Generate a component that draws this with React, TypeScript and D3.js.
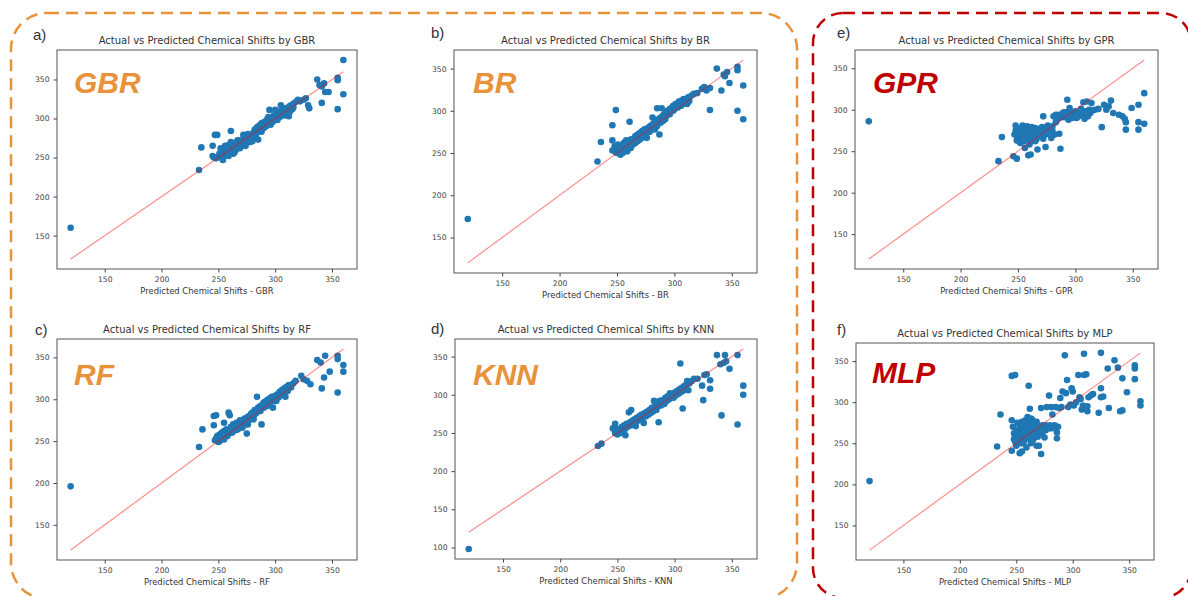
import { useEffect, useRef } from 'react';
import * as d3 from 'd3';

type Pt = [number, number];

// [x, y] pairs (x axis: "Predicted", y axis: actual)
const gbrPoints: Pt[] = [
  [120, 160], [233, 234], [235, 263], [245, 265], [245, 252], [247, 279], [249, 279], [246, 250], [248, 249],
  [250, 251], [251, 255], [252, 250], [253, 258], [254, 253], [255, 252], [255, 262], [256, 258], [257, 255],
  [258, 261], [258, 253], [259, 266], [260, 257], [260, 262], [261, 284], [262, 259], [262, 264], [263, 262],
  [264, 256], [264, 268], [265, 266], [266, 261], [266, 270], [267, 265], [268, 263], [268, 272], [269, 268],
  [270, 266], [271, 272], [272, 269], [273, 276], [273, 266], [274, 271], [275, 278], [276, 273], [277, 270],
  [278, 276], [279, 279], [280, 277], [281, 282], [282, 286], [283, 280], [284, 289], [285, 273], [285, 285],
  [286, 291], [287, 288], [288, 294], [289, 290], [290, 295], [291, 292], [292, 297], [293, 299], [294, 296],
  [295, 311], [296, 300], [297, 297], [298, 302], [299, 304], [300, 311], [300, 300], [301, 305], [302, 303],
  [303, 307], [304, 309], [305, 317], [306, 305], [307, 310], [308, 313], [309, 308], [310, 311], [311, 314],
  [312, 303], [313, 316], [314, 317], [315, 312], [316, 319], [318, 321], [320, 324], [322, 322], [325, 324],
  [327, 326], [329, 317], [330, 313], [337, 350], [339, 343], [341, 341], [341, 320], [343, 345], [344, 334],
  [347, 334], [355, 352], [355, 349], [355, 312], [360, 375], [360, 331],
  [252, 262], [254, 247], [256, 265], [259, 252], [261, 270], [263, 255], [265, 259], [267, 272], [269, 262],
  [271, 265], [272, 279], [274, 265], [276, 280], [278, 270], [280, 271], [282, 278], [284, 282], [286, 284],
  [288, 283], [290, 288], [292, 290], [294, 302], [296, 292], [298, 296], [302, 298], [304, 302], [306, 312],
  [308, 304], [310, 305], [313, 309], [316, 314],
];

const brPoints: Pt[] = [
  [120, 172], [233, 240], [236, 263], [246, 283], [249, 301], [246, 265], [246, 253], [248, 258], [249, 251],
  [250, 250], [251, 254], [252, 256], [253, 252], [254, 259], [255, 255], [256, 262], [257, 258], [258, 265],
  [258, 254], [259, 260], [260, 263], [261, 287], [261, 258], [262, 266], [263, 262], [264, 267], [265, 264],
  [266, 270], [267, 266], [268, 272], [269, 268], [270, 274], [271, 270], [272, 276], [273, 271], [274, 278],
  [275, 273], [276, 268], [277, 280], [278, 275], [279, 282], [280, 278], [281, 292], [282, 284], [283, 286],
  [284, 281], [285, 303], [286, 290], [287, 272], [288, 292], [289, 303], [290, 294], [291, 296], [292, 290],
  [293, 298], [294, 300], [295, 296], [296, 302], [297, 300], [298, 304], [299, 306], [300, 302], [301, 308],
  [302, 305], [303, 309], [304, 311], [305, 307], [306, 312], [307, 310], [308, 314], [309, 309], [310, 313],
  [311, 308], [312, 316], [313, 312], [315, 318], [317, 320], [320, 321], [324, 326], [326, 328], [328, 324],
  [331, 327], [331, 301], [337, 350], [341, 324], [343, 343], [344, 341], [346, 346], [348, 333], [355, 352],
  [355, 348], [355, 300], [360, 330], [360, 290],
  [251, 260], [253, 248], [255, 250], [257, 262], [259, 252], [262, 256], [264, 260], [266, 262], [268, 264],
  [270, 266], [272, 268], [274, 270], [276, 275], [279, 276], [281, 284], [283, 278], [285, 282], [288, 286],
  [290, 288], [293, 294], [296, 296], [299, 300], [303, 304], [306, 306], [309, 312], [312, 310],
];

const gprPoints: Pt[] = [
  [120, 286], [233, 238], [236, 267], [246, 244], [247, 270], [248, 281], [248, 275], [249, 263], [249, 241],
  [250, 266], [251, 272], [252, 260], [253, 278], [254, 281], [254, 268], [255, 262], [255, 274], [256, 254],
  [257, 270], [257, 276], [258, 265], [258, 280], [259, 245], [259, 272], [260, 258], [260, 268], [261, 246],
  [261, 276], [262, 262], [262, 279], [263, 270], [264, 266], [264, 274], [265, 278], [266, 264], [266, 271],
  [267, 252], [268, 276], [269, 268], [270, 273], [271, 279], [272, 292], [272, 265], [273, 270], [274, 255],
  [275, 276], [276, 281], [277, 272], [278, 278], [279, 266], [280, 275], [281, 292], [282, 270], [283, 294],
  [284, 288], [285, 294], [286, 271], [287, 253], [288, 293], [289, 296], [290, 291], [291, 294], [292, 297],
  [293, 312], [294, 288], [295, 302], [296, 294], [297, 290], [298, 296], [299, 293], [300, 298], [301, 290],
  [302, 295], [303, 292], [304, 297], [305, 301], [306, 294], [307, 309], [308, 289], [309, 298], [310, 310],
  [311, 292], [312, 300], [313, 296], [314, 308], [315, 299], [317, 300], [320, 301], [323, 279], [325, 306],
  [327, 300], [329, 304], [331, 311], [333, 296], [338, 294], [341, 292], [343, 289], [344, 285], [344, 276],
  [349, 302], [355, 306], [355, 285], [355, 276], [360, 320], [360, 283],
  [250, 275], [251, 262], [253, 268], [255, 280], [256, 266], [258, 272], [260, 276], [262, 270], [263, 278],
  [265, 262], [266, 276], [268, 270], [270, 278], [272, 274], [274, 270], [276, 276], [278, 272], [280, 280],
  [283, 285], [286, 290], [290, 297], [295, 296], [300, 292], [305, 296], [310, 298],
];

const rfPoints: Pt[] = [
  [120, 196], [233, 243], [236, 264], [246, 280], [248, 281], [246, 269], [247, 251], [248, 253], [249, 256],
  [250, 249], [251, 258], [252, 252], [253, 260], [254, 255], [255, 262], [255, 272], [256, 258], [257, 264],
  [258, 256], [259, 284], [260, 281], [260, 261], [261, 267], [262, 260], [263, 270], [264, 265], [265, 263],
  [266, 272], [267, 268], [268, 266], [269, 275], [270, 270], [271, 273], [272, 268], [273, 277], [274, 273],
  [275, 259], [276, 279], [277, 275], [278, 281], [279, 277], [280, 284], [281, 280], [282, 287], [283, 283],
  [284, 303], [285, 290], [286, 286], [287, 292], [288, 270], [289, 294], [290, 290], [291, 297], [292, 293],
  [293, 299], [294, 295], [295, 301], [296, 297], [297, 303], [298, 290], [299, 300], [300, 304], [301, 298],
  [302, 306], [303, 302], [304, 309], [305, 305], [306, 311], [307, 307], [308, 313], [309, 303], [310, 315],
  [311, 310], [312, 317], [314, 314], [316, 319], [318, 322], [323, 328], [325, 324], [328, 322], [331, 318],
  [337, 347], [340, 344], [341, 313], [343, 326], [344, 352], [348, 333], [355, 352], [355, 348], [355, 308],
  [360, 341], [360, 333],
  [251, 250], [253, 254], [255, 252], [257, 257], [259, 259], [261, 262], [263, 262], [265, 268], [267, 264],
  [269, 270], [271, 266], [274, 276], [276, 270], [279, 283], [281, 276], [284, 285], [287, 286], [290, 296],
  [293, 292], [296, 299], [300, 298], [303, 305], [307, 311], [311, 314],
];

const knnPoints: Pt[] = [
  [120, 98], [233, 233], [236, 236], [246, 256], [247, 257], [248, 262], [248, 250], [249, 253], [250, 248],
  [251, 252], [252, 255], [253, 250], [254, 258], [255, 254], [256, 260], [257, 247], [257, 256], [258, 262],
  [259, 258], [260, 277], [261, 264], [262, 280], [262, 260], [263, 266], [264, 262], [265, 268], [266, 259],
  [267, 270], [268, 266], [269, 272], [270, 268], [271, 274], [272, 270], [273, 263], [274, 276], [275, 272],
  [276, 278], [277, 274], [278, 280], [279, 276], [280, 283], [281, 278], [282, 292], [283, 285], [284, 280],
  [285, 288], [286, 264], [287, 292], [288, 286], [289, 290], [290, 293], [291, 288], [292, 296], [293, 292],
  [294, 298], [295, 294], [296, 302], [297, 297], [298, 300], [299, 296], [300, 303], [301, 299], [302, 305],
  [303, 301], [304, 307], [305, 303], [305, 341], [306, 309], [307, 282], [307, 305], [308, 311], [309, 307],
  [310, 313], [311, 318], [312, 306], [313, 315], [315, 318], [317, 321], [320, 321], [324, 312], [325, 293],
  [326, 326], [328, 327], [331, 319], [331, 308], [337, 352], [340, 340], [341, 273], [343, 342], [344, 352],
  [345, 344], [348, 334], [355, 352], [355, 261], [360, 312], [360, 300],
  [250, 255], [252, 250], [254, 252], [256, 255], [258, 258], [260, 260], [262, 262], [264, 266], [266, 268],
  [268, 268], [270, 272], [273, 272], [276, 276], [279, 280], [282, 280], [285, 284], [288, 290], [291, 292],
  [294, 296], [297, 300], [300, 300], [303, 304], [306, 306],
];

const mlpPoints: Pt[] = [
  [120, 204], [233, 246], [236, 285], [246, 332], [249, 333], [246, 241], [246, 278], [247, 270], [248, 262],
  [248, 255], [249, 252], [250, 258], [250, 247], [251, 275], [252, 266], [252, 256], [253, 238], [253, 270],
  [254, 262], [254, 250], [255, 240], [255, 276], [256, 268], [256, 258], [257, 272], [257, 253], [258, 264],
  [258, 278], [259, 245], [259, 260], [260, 270], [260, 282], [261, 320], [261, 256], [262, 292], [262, 266],
  [263, 274], [263, 250], [264, 279], [264, 260], [265, 268], [265, 255], [266, 272], [267, 262], [268, 247],
  [268, 276], [269, 258], [270, 266], [270, 247], [271, 270], [272, 237], [272, 293], [273, 262], [274, 268],
  [275, 257], [276, 272], [277, 294], [278, 269], [279, 308], [280, 272], [281, 294], [282, 285], [283, 270],
  [284, 272], [285, 294], [286, 263], [286, 256], [288, 293], [289, 305], [290, 294], [291, 313], [293, 357],
  [294, 311], [295, 327], [296, 294], [298, 297], [299, 317], [300, 313], [301, 296], [303, 300], [305, 333],
  [306, 306], [307, 304], [308, 291], [309, 296], [310, 333], [310, 359], [312, 334], [313, 295], [313, 289],
  [314, 306], [316, 308], [318, 310], [323, 287], [325, 317], [325, 306], [325, 360], [327, 307], [331, 341],
  [332, 293], [337, 351], [340, 342], [342, 289], [344, 290], [344, 329], [348, 312], [355, 345], [355, 341],
  [355, 328], [360, 301], [360, 296],
  [250, 265], [251, 254], [253, 260], [254, 272], [256, 250], [257, 264], [258, 270], [259, 276], [260, 262],
  [261, 268], [262, 258], [263, 280], [264, 252], [265, 275], [266, 262], [267, 268], [269, 272], [271, 262],
  [273, 272], [276, 266], [280, 268], [284, 268], [287, 270],
];

// ends of the red reference line (y = x)
const refLine = [120, 360];

const ORANGE = '#e8923a';
const RED = '#c00000';
const DOT = '#1f77b4';

const panels = [
  { letter: 'a)', model: 'GBR', points: gbrPoints, color: ORANGE, box: [57, 357, 50, 269], letterAt: [33, 40], tagAt: [74, 93] },
  { letter: 'b)', model: 'BR', points: brPoints, color: ORANGE, box: [454, 757, 50, 273], letterAt: [431, 38], tagAt: [473, 93] },
  { letter: 'e)', model: 'GPR', points: gprPoints, color: RED, box: [855, 1158, 50, 269], letterAt: [837, 38], tagAt: [873, 93] },
  { letter: 'c)', model: 'RF', points: rfPoints, color: ORANGE, box: [57, 357, 339, 560], letterAt: [35, 335], tagAt: [74, 385] },
  { letter: 'd)', model: 'KNN', points: knnPoints, color: ORANGE, box: [455, 757, 339, 559], letterAt: [431, 334], tagAt: [473, 385] },
  { letter: 'f)', model: 'MLP', points: mlpPoints, color: RED, box: [856, 1154, 343, 560], letterAt: [837, 335], tagAt: [872, 383] },
];

function padded(values: number[]): [number, number] {
  const [lo, hi] = d3.extent(values) as [number, number];
  const m = (hi - lo) * 0.05;
  return [lo - m, hi + m];
}

export default function App() {
  const svgRef = useRef<SVGSVGElement>(null);

  useEffect(() => {
    if (!svgRef.current) return;
    const svg = d3.select(svgRef.current);
    svg.selectAll('*').remove();

    svg.append('rect').attr('width', 1188).attr('height', 596).attr('fill', '#fff');

    // dashed group frames
    svg.append('rect')
      .attr('x', 11).attr('y', 13).attr('width', 786).attr('height', 586).attr('rx', 36)
      .attr('fill', 'none').attr('stroke', ORANGE).attr('stroke-width', 2.5).attr('stroke-dasharray', '12 7');
    svg.append('rect')
      .attr('x', 813).attr('y', 13).attr('width', 378).attr('height', 585).attr('rx', 30)
      .attr('fill', 'none').attr('stroke', RED).attr('stroke-width', 2.5).attr('stroke-dasharray', '12 7');

    panels.forEach(p => {
      const [x0, x1, y0, y1] = p.box;
      const g = svg.append('g');

      const x = d3.scaleLinear().domain(padded(p.points.map(d => d[0]).concat(refLine))).range([x0, x1]);
      const y = d3.scaleLinear().domain(padded(p.points.map(d => d[1]).concat(refLine))).range([y1, y0]);

      const xAxis = g.append('g')
        .attr('transform', `translate(0,${y1})`)
        .call(d3.axisBottom(x).ticks(5).tickSize(3.5).tickPadding(4));
      const yAxis = g.append('g')
        .attr('transform', `translate(${x0},0)`)
        .call(d3.axisLeft(y).ticks(5).tickSize(3.5).tickPadding(4));
      [xAxis, yAxis].forEach(ax => {
        ax.select('.domain').remove();
        ax.selectAll('line').attr('stroke', '#444');
        ax.selectAll('text')
          .attr('fill', '#444')
          .style('font-family', 'DejaVu Sans, sans-serif')
          .style('font-size', '7.6px');
      });

      g.append('g').selectAll('circle')
        .data(p.points)
        .join('circle')
        .attr('cx', d => x(d[0]))
        .attr('cy', d => y(d[1]))
        .attr('r', 3.3)
        .attr('fill', DOT);

      g.append('line')
        .attr('x1', x(refLine[0])).attr('y1', y(refLine[0]))
        .attr('x2', x(refLine[1])).attr('y2', y(refLine[1]))
        .attr('stroke', '#ff0000').attr('stroke-opacity', 0.45).attr('stroke-width', 1.2);

      g.append('rect')
        .attr('x', x0).attr('y', y0).attr('width', x1 - x0).attr('height', y1 - y0)
        .attr('fill', 'none').attr('stroke', '#555').attr('stroke-width', 1);

      g.append('text')
        .attr('x', (x0 + x1) / 2).attr('y', y0 - 6)
        .attr('text-anchor', 'middle')
        .attr('fill', '#333')
        .style('font-family', 'DejaVu Sans, sans-serif').style('font-size', '10px')
        .text(`Actual vs Predicted Chemical Shifts by ${p.model}`);

      g.append('text')
        .attr('x', (x0 + x1) / 2).attr('y', y1 + 25)
        .attr('text-anchor', 'middle')
        .attr('fill', '#333')
        .style('font-family', 'DejaVu Sans, sans-serif').style('font-size', '8.4px')
        .text(`Predicted Chemical Shifts - ${p.model}`);

      g.append('text')
        .attr('x', p.letterAt[0]).attr('y', p.letterAt[1])
        .attr('fill', '#333')
        .style('font-family', 'Liberation Sans, Arial, sans-serif').style('font-size', '15px')
        .text(p.letter);

      g.append('text')
        .attr('x', p.tagAt[0]).attr('y', p.tagAt[1])
        .attr('fill', p.color)
        .style('font-family', 'Liberation Sans, Arial, sans-serif')
        .style('font-size', '30px').style('font-weight', 'bold').style('font-style', 'italic')
        .text(p.model);
    });
  }, []);

  return (
    <svg
      ref={svgRef}
      width={1188}
      height={596}
      style={{ position: 'absolute', left: 0, top: 0, display: 'block' }}
    />
  );
}
